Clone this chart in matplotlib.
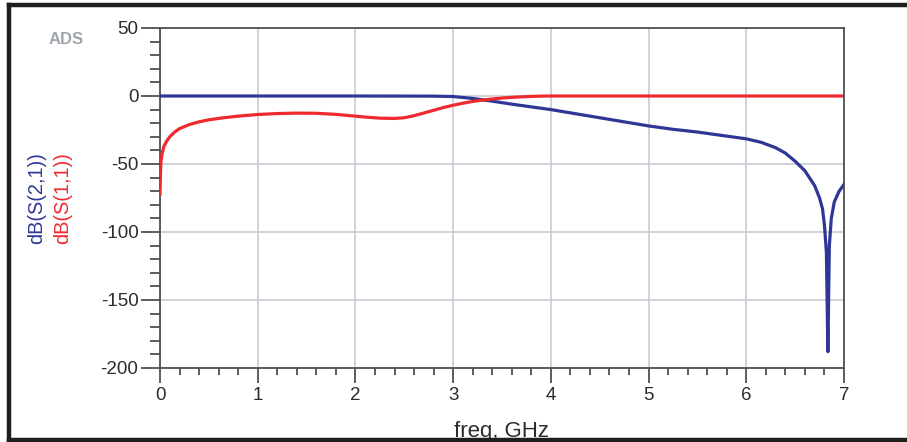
import matplotlib
matplotlib.use("Agg")
import matplotlib.pyplot as plt
from matplotlib.lines import Line2D
from matplotlib.ticker import MultipleLocator

plt.rcParams['font.family'] = ['Liberation Sans', 'DejaVu Sans']
plt.rcParams['axes.unicode_minus'] = False

# S-parameter sweep (frequency in GHz, magnitude in dB)
freq_s11 = [0.0, 0.003, 0.006, 0.01, 0.02, 0.04, 0.07, 0.1, 0.15, 0.2, 0.3, 0.4,
            0.5, 0.65, 0.8, 1.0, 1.2, 1.4, 1.6, 1.8, 1.95, 2.1, 2.25, 2.4,
            2.5, 2.6, 2.7, 2.8, 2.9, 3.0, 3.1, 3.2, 3.3, 3.4, 3.5, 3.6,
            3.7, 3.8, 3.9, 4.0, 5.0, 6.0, 7.0]
db_s11 = [-72, -62, -54, -48, -43, -37, -33, -30, -26.5, -24, -21, -19,
          -17.5, -16, -14.8, -13.6, -12.9, -12.6, -12.7, -13.5, -14.5, -15.5, -16.3, -16.5,
          -16.0, -14.5, -12.5, -10.5, -8.5, -6.8, -5.3, -4.0, -3.0, -2.2, -1.5, -1.0,
          -0.6, -0.3, -0.1, 0, 0, 0, 0]

freq_s21 = [0.0, 1.0, 2.0, 2.8, 3.0, 3.2, 3.4, 3.6, 3.8, 4.0, 4.25, 4.5,
            4.75, 5.0, 5.25, 5.5, 5.75, 6.0, 6.15, 6.3, 6.4, 6.5, 6.6, 6.7,
            6.75, 6.78, 6.8, 6.82, 6.835, 6.85, 6.87, 6.9, 6.95, 7.0]
db_s21 = [0, 0, 0, -0.1, -0.4, -1.8, -3.8, -6.0, -8.0, -10.0, -13.0, -16.0,
          -19.0, -22.0, -24.5, -26.5, -29.0, -31.5, -34.0, -38.0, -42.0, -48.0, -55.0, -66.0,
          -75.0, -83.0, -95.0, -115.0, -188.0, -110.0, -90.0, -78.0, -70.0, -65.0]

x_ticks = [0, 1, 2, 3, 4, 5, 6, 7]
y_ticks = [-200, -150, -100, -50, 0, 50]

blue = '#2e3796'
red = '#ee2a2e'
axis_grey = '#505050'
text_grey = '#2c2c30'

W, H = 907, 442
fig = plt.figure(figsize=(W / 100, H / 100), dpi=100)
ax = fig.add_axes([160 / W, 1 - 368 / H, 684 / W, 340 / H])

ax.plot(freq_s21, db_s21, color=blue, lw=2.3, zorder=3)
ax.plot(freq_s11, db_s11, color=red, lw=2.3, zorder=3)

ax.set_xlim(0, 7)
ax.set_ylim(-200, 50)
ax.set_xticks(x_ticks)
ax.set_yticks(y_ticks)
ax.xaxis.set_minor_locator(MultipleLocator(0.2))
ax.yaxis.set_minor_locator(MultipleLocator(10))
ax.grid(True, which='major', color='#c9cad3', lw=1.2, zorder=0)

for side in ax.spines.values():
    side.set_color(axis_grey)
    side.set_linewidth(1.3)

ax.tick_params(which='both', direction='out', width=1.3, color=axis_grey,
               labelsize=13.5, labelcolor=text_grey)
ax.tick_params(axis='y', which='major', length=14, pad=1.5)
ax.tick_params(axis='y', which='minor', length=7.5)
ax.tick_params(axis='x', which='major', length=10.5, pad=3)
ax.tick_params(axis='x', which='minor', length=5)

fig.text(502 / W, 1 - 437 / H, 'freq, GHz', fontsize=16, color=text_grey,
         ha='center', va='baseline')

fig.text(37 / W, 1 - 198 / H, 'dB(S(2,1))', rotation=90, color=blue,
         fontsize=14.4, ha='center', va='center')
fig.text(63 / W, 1 - 198 / H, 'dB(S(1,1))', rotation=90, color=red,
         fontsize=14.4, ha='center', va='center')
fig.text(66 / W, 1 - 40 / H, 'ADS', color='#a0a4ac', fontsize=12,
         fontweight='bold', ha='center', va='center')

# outer frame
frame_kw = dict(color='#1e1e1e', lw=3.2, transform=fig.transFigure,
                solid_capstyle='projecting', zorder=5)
fig.add_artist(Line2D([9 / W, 1.0], [1 - 5 / H, 1 - 5 / H], **frame_kw))
fig.add_artist(Line2D([9 / W, 9 / W], [1 - 5 / H, 1 - 440 / H], **frame_kw))
fig.add_artist(Line2D([9 / W, 1.0], [1 - 440 / H, 1 - 440 / H], **frame_kw))

fig.savefig('out.png', dpi=100, facecolor='white')
